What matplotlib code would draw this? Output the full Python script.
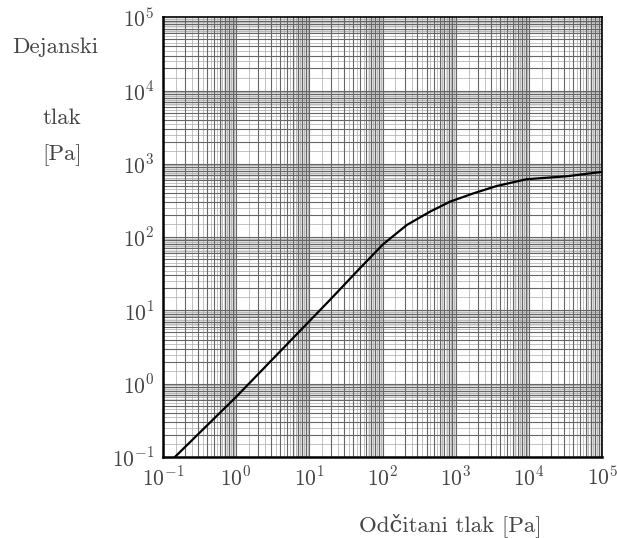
import numpy as np
import matplotlib
matplotlib.use("Agg")
import matplotlib.pyplot as plt

plt.rcParams['mathtext.fontset'] = 'cm'

# data
measured = [0.146, 1.0, 19, 49, 102, 214, 444, 832, 1740, 3630, 9330, 33000, 100000]
actual = [0.1, 0.66, 13.8, 37.5, 80, 146, 222, 304, 395, 498, 617, 676, 776]

decades = [-1, 0, 1, 2, 3, 4, 5]
tick_labels = [r'$10^{%d}$' % d for d in decades]

fig = plt.figure(figsize=(6.17, 5.38), dpi=100)
ax = fig.add_axes([0.264, 0.1506, 0.712, 0.8174])
ax.set_xscale('log')
ax.set_yscale('log')
ax.set_xlim(1e-1, 1e5)
ax.set_ylim(1e-1, 1e5)

ticks = [10.0 ** d for d in decades]
ax.set_xticks(ticks)
ax.set_yticks(ticks)
ax.set_xticklabels(tick_labels)
ax.set_yticklabels(tick_labels)
ax.minorticks_off()
ax.tick_params(which='both', length=0, labelsize=15.5, labelcolor='#444444', pad=6)

# log paper grid
mainm = np.arange(1, 10)
halfm = np.arange(1.5, 10, 1.0)
finem = np.arange(6.25, 10, 0.25)
def pos(ms):
    out = []
    for d in decades[:-1]:
        out += [m * 10.0 ** d for m in ms]
    return out
for ms, lw, c in [(finem, 0.4, '#cccccc'), (halfm, 0.5, '#aaaaaa'), (mainm, 0.8, '#666666')]:
    for p in pos(ms):
        ax.axvline(p, color=c, lw=lw, zorder=1)
        ax.axhline(p, color=c, lw=lw, zorder=1)

ax.plot(measured, actual, color='black', lw=1.6, zorder=3)

for s in ax.spines.values():
    s.set_linewidth(1.2)
ax.spines['left'].set_linewidth(1.8)
ax.spines['bottom'].set_linewidth(1.8)

fam = ['cmr10', 'DejaVu Serif']
tc = '#444444'
fig.text(0.089, 0.912, 'Dejanski', fontsize=16.5, family=fam, ha='center', va='center', color=tc)
fig.text(0.100, 0.780, 'tlak', fontsize=16.5, family=fam, ha='center', va='center', color=tc)
fig.text(0.100, 0.712, '[Pa]', fontsize=16.5, family=fam, ha='center', va='center', color=tc)
fig.text(0.730, 0.024, 'Odčitani tlak [Pa]', fontsize=16.5, family=fam, ha='center', va='center', color=tc)

fig.savefig('out.png', dpi=100)
